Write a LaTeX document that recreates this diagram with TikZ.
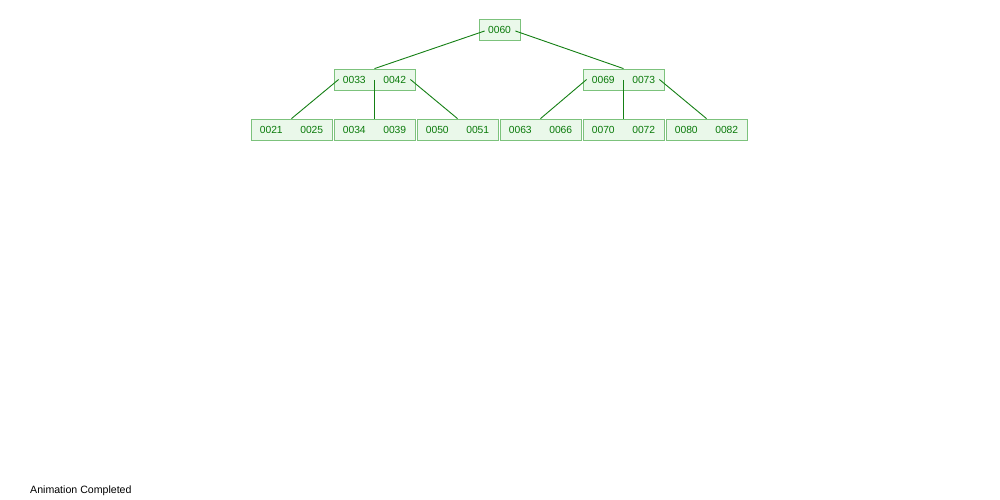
\documentclass[tikz,border=0pt]{standalone}
\usepackage{fontspec}
\setmainfont{Liberation Sans}
\definecolor{boxfill}{HTML}{EAF8EA}
\definecolor{boxline}{HTML}{7CC27C}
\definecolor{keytext}{HTML}{0A7A0A}
\definecolor{edgecol}{HTML}{158015}
\tikzset{
  bbox/.style={draw=boxline, fill=boxfill, line width=0.8pt, inner sep=0pt, minimum height=21pt, text=keytext, font=\fontsize{10.3}{12}\selectfont},
  edge/.style={draw=edgecol, line width=0.9pt}
}
\newcommand{\twokeys}[2]{\makebox[40.5pt]{#1}\makebox[40.5pt]{#2}}
\begin{document}
\begin{tikzpicture}[x=1pt,y=-1pt]
\useasboundingbox[fill=white] (0,0) rectangle (1000,500);
% nodes
\node[bbox, minimum width=41pt] (root) at (499.5,30) {0060};
\node[bbox, minimum width=81pt] (L) at (374.5,79.5) {\twokeys{0033}{0042}};
\node[bbox, minimum width=81pt] (R) at (623.5,79.5) {\twokeys{0069}{0073}};
\node[bbox, minimum width=81pt] (l1) at (291.5,129.5) {\twokeys{0021}{0025}};
\node[bbox, minimum width=81pt] (l2) at (374.5,129.5) {\twokeys{0034}{0039}};
\node[bbox, minimum width=81pt] (l3) at (457.5,129.5) {\twokeys{0050}{0051}};
\node[bbox, minimum width=81pt] (l4) at (540.5,129.5) {\twokeys{0063}{0066}};
\node[bbox, minimum width=81pt] (l5) at (623.5,129.5) {\twokeys{0070}{0072}};
\node[bbox, minimum width=81pt] (l6) at (706.5,129.5) {\twokeys{0080}{0082}};
% edges
\draw[edge] ([xshift=6pt,yshift=-1pt]root.west) -- (L.north);
\draw[edge] ([xshift=-5pt,yshift=-1pt]root.east) -- (R.north);
\draw[edge] ([xshift=5pt]L.west) -- (l1.north);
\draw[edge] ([yshift=-0.5pt]L.center) -- (l2.north);
\draw[edge] ([xshift=-5pt]L.east) -- (l3.north);
\draw[edge] ([xshift=4pt]R.west) -- (l4.north);
\draw[edge] ([yshift=-0.5pt]R.center) -- (l5.north);
\draw[edge] ([xshift=-5pt]R.east) -- (l6.north);
% status
\node[anchor=base west, inner sep=0pt, font=\fontsize{10.6}{12}\selectfont] (status) at (30,493) {Animation Completed};
\end{tikzpicture}
\end{document}
